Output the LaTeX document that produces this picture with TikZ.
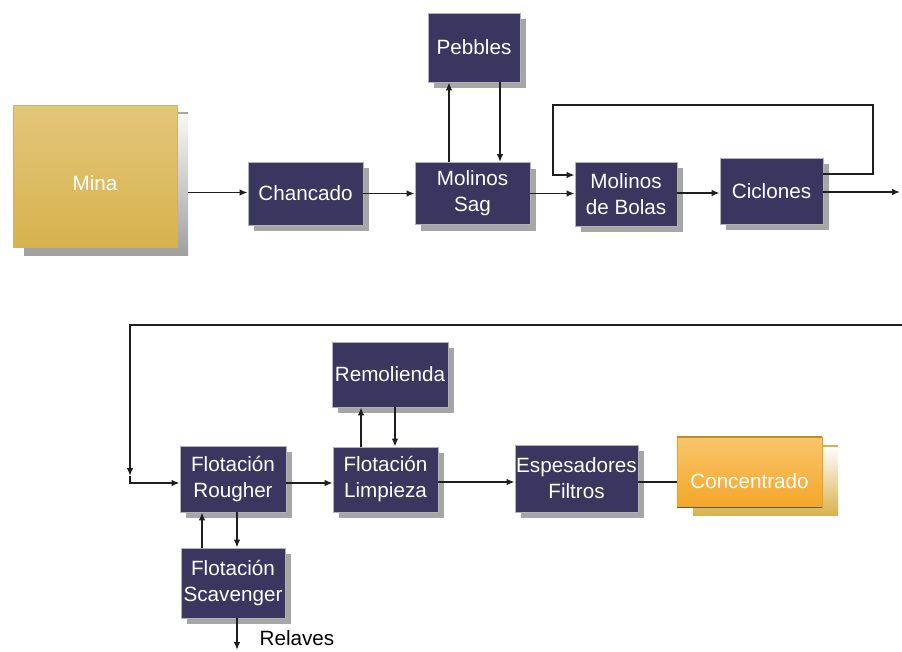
\documentclass[tikz,border=0pt]{standalone}
\usepackage{fontspec}
\setmainfont{Liberation Sans}
\usetikzlibrary{calc,shadows,arrows.meta}

\definecolor{procfill}{RGB}{58,54,96}
\definecolor{goldtop}{RGB}{227,198,121}
\definecolor{goldbot}{RGB}{216,178,78}
\definecolor{orangetop}{RGB}{249,198,108}
\definecolor{orangebot}{RGB}{244,166,40}
\definecolor{orangeedge}{RGB}{240,160,32}
\definecolor{linec}{RGB}{30,30,30}

\newcommand\lblfont{\fontsize{15.5}{19.5}\selectfont}

\begin{document}
\begin{tikzpicture}[x=0.75pt,y=-0.75pt,
  proc/.style={draw=gray!60, line width=0.6pt, fill=procfill, text=white,
    font=\lblfont, align=center, inner sep=0pt,
    drop shadow={shadow xshift=4.5pt, shadow yshift=-4.5pt, fill=gray!70, opacity=1}},
  flow/.style={draw=linec, line width=1.35pt, -{Latex[length=6pt,width=5pt]}},
  plain/.style={draw=linec, line width=1.35pt},
  caption/.style={text=white, font=\lblfont}]
\useasboundingbox (0,0) rectangle (902,651);

% --- Mina: gold source block with its backing panel
\shade[top color=gray!5, bottom color=gray!75] (24,112) rectangle (188,255);
\draw[gray!70, line width=1.2pt] (177,113) -- (188,113);
\node[shade, top color=goldtop, bottom color=goldbot, draw=goldtop!90!black,
  line width=0.4pt, inner sep=0pt,
  minimum width=123pt, minimum height=106.5pt] (mina) at (95,176) {};
\node[caption] (minatxt) at ($(mina)+(0,7)$) {Mina};

% --- grinding circuit
\node[proc, minimum width=86.25pt, minimum height=47.25pt] (chan) at (305.5,193.5) {Chancado};
\node[proc, minimum width=86.25pt, minimum height=46.5pt] (sag) at (472.5,193.5) {Molinos\\Sag};
\node[proc, minimum width=69pt, minimum height=51.75pt] (peb) at (474,47.5) {Pebbles};
\node[proc, minimum width=76.5pt, minimum height=48pt] (bol) at (626,194) {Molinos\\de Bolas};
\node[proc, minimum width=77.25pt, minimum height=49.5pt] (cic) at (771.5,191) {Ciclones};

% --- flotation circuit
\node[proc, minimum width=79.5pt, minimum height=49.5pt] (rou) at (233,479) {Flotación\\Rougher};
\node[proc, minimum width=87pt, minimum height=48.75pt] (rem) at (390,374.5) {Remolienda};
\node[proc, minimum width=78.75pt, minimum height=48.75pt] (lim) at (385.5,479.5) {Flotación\\Limpieza};
\node[proc, minimum width=92.25pt, minimum height=50.25pt] (esp) at (576.5,478.5) {Espesadores\\Filtros};
\node[proc, minimum width=78pt, minimum height=52.5pt] (sca) at (233,583) {Flotación\\Scavenger};

% --- Concentrado: orange product block with its backing panel
\shade[top color=white, bottom color=goldbot] (693,445) rectangle (838,515);
\draw[goldbot, line width=1.5pt] (822,445.5) -- (838,445.5);
\node[shade, top color=orangetop, bottom color=orangebot, draw=orangeedge,
  line width=0.6pt, inner sep=0pt,
  minimum width=108.75pt, minimum height=52.5pt] (con) at (749.5,472) {};
\draw[orangeedge!85!black, line width=1.5pt] (con.north west) -- (con.north east);
\draw[gray!70!black, line width=1pt] (con.south west) -- (con.south east);
\node[caption] (contxt) at ($(con)+(0,9)$) {Concentrado};

% --- connectors, first row
\draw[flow] ($(mina.east |- chan.west)+(11,-1)$) -- ($(chan.west)+(0,-1)$);
\draw[flow] (chan.east) -- (chan.east -| sag.west);
\draw[flow] ($(sag.north)+(-23.5,0)$) -- ($(peb.south)+(-25,0)$);
\draw[flow] ($(peb.south)+(26,0)$) -- ($(sag.north)+(27.5,0)$);
\draw[flow] (sag.east) -- (sag.east -| bol.west);
\draw[flow] ($(bol.east)+(0,-1)$) -- ($(bol.east -| cic.west)+(0,-1)$);
\draw[flow] ($(cic.east)+(0,-17)$) -- (873,174) -- (873,105) -- (553,105) -- (553,175)
  -- ($(bol.west)+(0,-19)$);
\coordinate (out1) at (900,192);
\draw[flow] ($(cic.east)+(0,1)$) -- (out1);

% --- connectors, second row
\coordinate (in2) at (902,325);
\coordinate (bend) at (130,476);
\draw[flow] (in2) -- (130,325) -- (bend);
\draw[flow] (bend) -- (130,483) -- ($(rou.west)+(0,4)$);
\draw[flow] ($(rou.east)+(0,4)$) -- ($(lim.west)+(0,3.5)$);
\draw[flow] ($(lim.north)+(-24.5,0)$) -- ($(rem.south)+(-29,0)$);
\draw[flow] ($(rem.south)+(5,0)$) -- ($(lim.north)+(9.5,0)$);
\draw[flow] ($(lim.east)+(0,2.5)$) -- ($(esp.west)+(0,3.5)$);
\draw[plain] ($(esp.east)+(0,3.5)$) -- ($(con.west)+(0,10)$);
\draw[flow] ($(rou.south)+(4,0)$) -- ($(sca.north)+(4,0)$);
\draw[flow] ($(sca.north)+(-31,0)$) -- ($(rou.south)+(-31,0)$);
\coordinate (out2) at (237,650);
\draw[flow] ($(sca.south)+(4,0)$) -- (out2);
\node[font=\lblfont, text=black] (relaves) at (297,638) {Relaves};
\end{tikzpicture}
\end{document}
